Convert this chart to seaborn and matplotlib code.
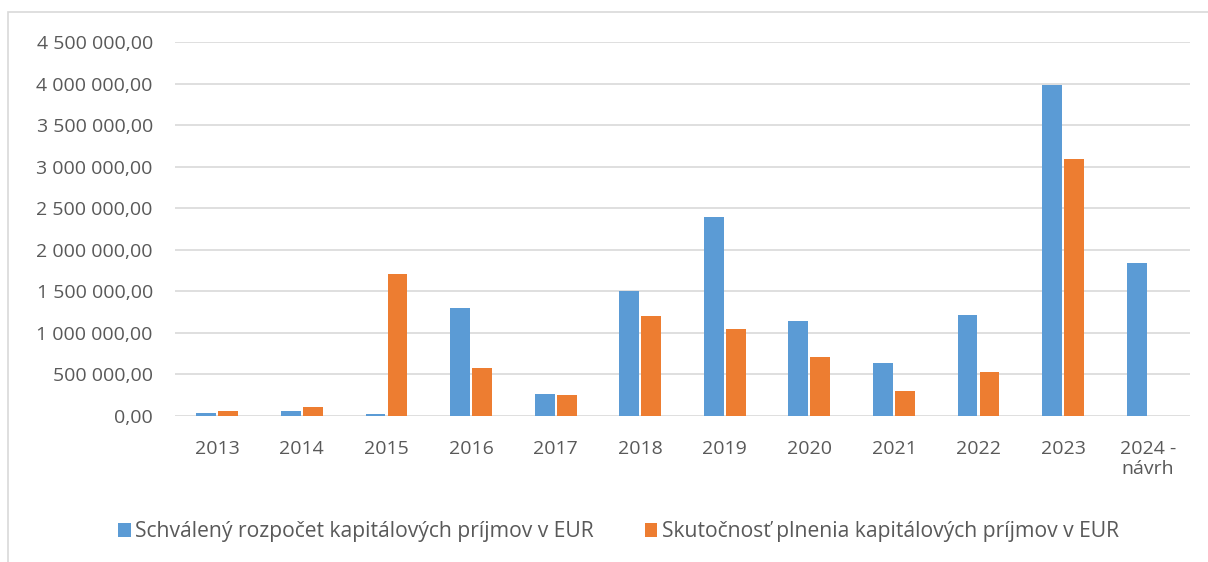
import seaborn as sns
import pandas as pd
import numpy as np
import matplotlib.pyplot as plt
from matplotlib.ticker import FuncFormatter
from matplotlib.patches import Rectangle

# Capital revenue data (EUR)
years = ['2013', '2014', '2015', '2016', '2017', '2018', '2019', '2020',
         '2021', '2022', '2023', '2024 -\nnávrh']
budget = [35000, 60000, 30000, 1300000, 270000, 1500000, 2400000, 1145000,
          640000, 1210000, 3985000, 1840000]
actual = [60000, 110000, 1710000, 575000, 255000, 1205000, 1050000, 710000,
          295000, 530000, 3095000, np.nan]
series = ['Schválený rozpočet kapitálových príjmov v EUR',
          'Skutočnosť plnenia kapitálových príjmov v EUR']

data = pd.DataFrame({'Rok': years * 2,
                     'Hodnota': budget + actual,
                     'Séria': np.repeat(series, len(years))})

sns.set_style('white')
plt.rcParams['font.family'] = ['Open Sans', 'DejaVu Sans']

fig = plt.figure(figsize=(12.08, 5.62), dpi=100)
ax = fig.add_axes([175 / 1208, 1 - 416 / 562, 1015 / 1208, 374 / 562])

sns.barplot(data=data, x='Rok', y='Hodnota', hue='Séria', ax=ax,
            palette=['#5B9BD5', '#ED7D31'], width=0.52, gap=0.1,
            saturation=1, linewidth=0)

ax.set_ylim(0, 4500000)
ax.set_xlim(-0.5, 11.5)
ax.set_yticks(np.arange(0, 4500001, 500000))
ax.yaxis.set_major_formatter(FuncFormatter(
    lambda v, p: f'{v:,.2f}'.replace(',', ' ').replace('.', ',')))
ax.grid(axis='y', color='#D9D9D9', linewidth=1.2)
ax.set_axisbelow(True)
for s in ax.spines.values():
    s.set_visible(False)
ax.tick_params(axis='both', length=0, labelsize=14, labelcolor='#595959')
ax.tick_params(axis='x', pad=17)
ax.tick_params(axis='y', pad=16)
ax.set_xlabel('')
ax.set_ylabel('')

ax.legend(loc='center', bbox_to_anchor=(0.5 - 64 / 1015, -0.31), ncol=2,
          frameon=False, fontsize=15.2, handlelength=0.6, handleheight=0.6,
          handletextpad=0.2, columnspacing=2.4, labelcolor='#595959')

fig.patches.append(Rectangle((8 / 1208, -0.1), 1.2, 1.1 - 12 / 562,
                             transform=fig.transFigure, fill=False,
                             edgecolor='#D9D9D9', linewidth=1.2))

fig.savefig('out.png', dpi=100)
